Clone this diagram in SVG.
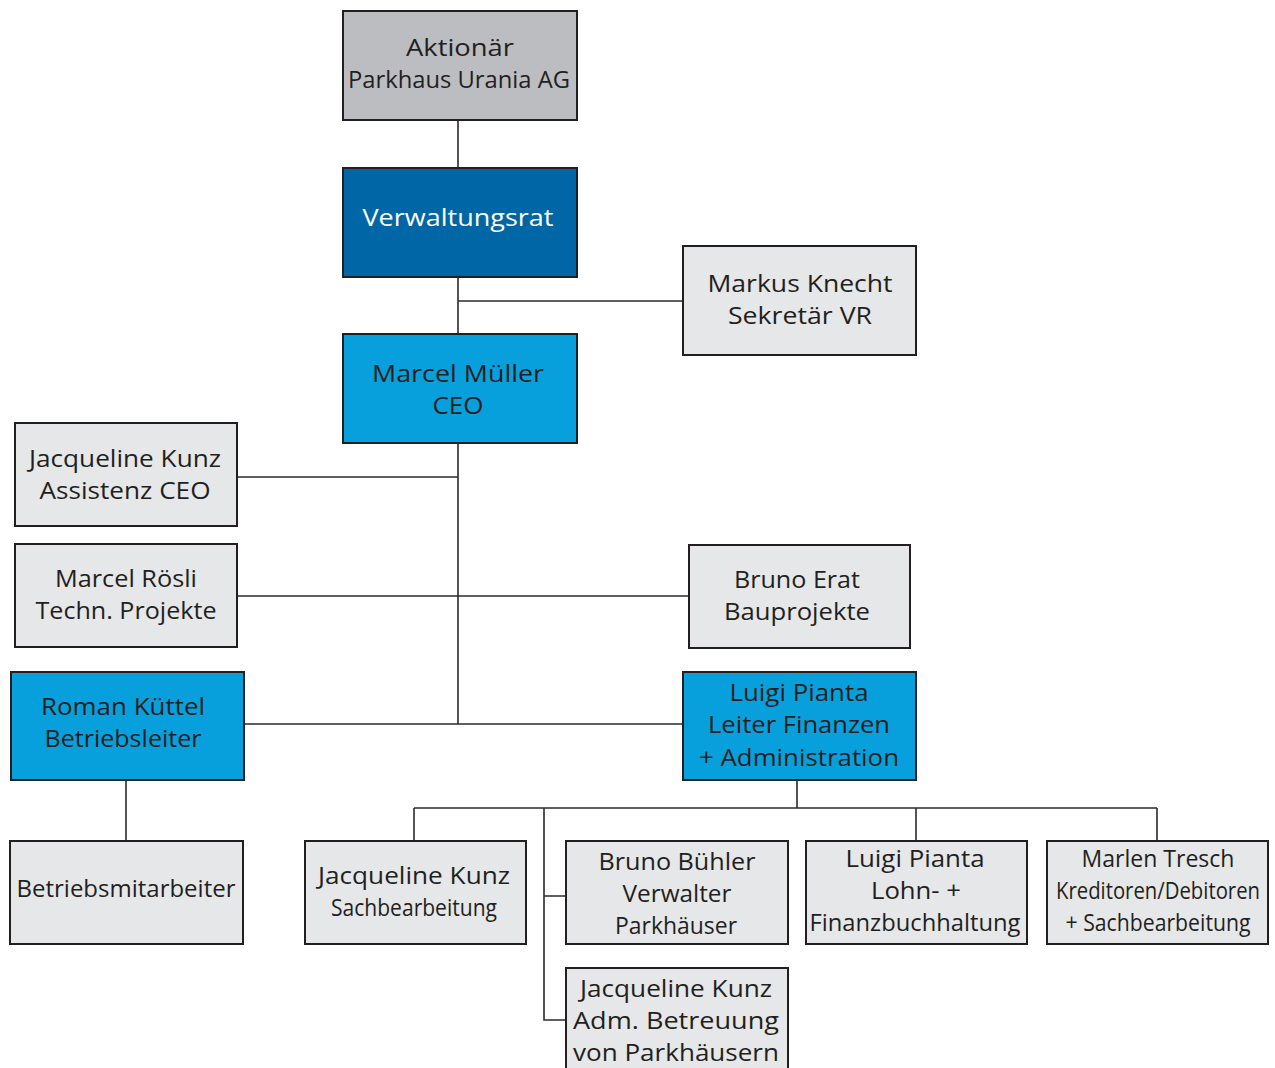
<svg xmlns="http://www.w3.org/2000/svg" width="1275" height="1068" viewBox="0 0 1275 1068">
<style>
.b{stroke:#231f20;stroke-width:2}
.g{fill:#bcbdc1}.l{fill:#e6e7e9}.d{fill:#0066a6}.c{fill:#079fdc}
text{font-family:"Open Sans","Noto Sans",sans-serif;font-size:24px;fill:#231f20;text-anchor:middle}
.w{fill:#ffffff}
.cn{stroke:#2b2b2b;stroke-width:1.6;fill:none}
</style>
<rect width="1275" height="1068" fill="#ffffff"/>
<g id="connectors">
<path class="cn" d="M458 120V168M458 277V334M458 301H683M458 443V724M237 477H458M237 596H689M244 724H683M126 780V841M797 780V808M414 808H1157M414 808V841M916 808V841M1157 808V841M544 808V1020H566M544 896H566"/>
</g>
<g id="aktionaer"><rect class="b g" x="343" y="11" width="234" height="109"/>
<text x="460" y="56" textLength="108" lengthAdjust="spacingAndGlyphs">Aktionär</text>
<text x="459" y="88" textLength="222" lengthAdjust="spacingAndGlyphs">Parkhaus Urania AG</text></g>
<g id="vr"><rect class="b d" x="343" y="168" width="234" height="109"/>
<text class="w" x="458" y="226" textLength="191" lengthAdjust="spacingAndGlyphs">Verwaltungsrat</text></g>
<g id="knecht"><rect class="b l" x="683" y="246" width="233" height="109"/>
<text x="800" y="292" textLength="185" lengthAdjust="spacingAndGlyphs">Markus Knecht</text>
<text x="800" y="324" textLength="144" lengthAdjust="spacingAndGlyphs">Sekretär VR</text></g>
<g id="ceo"><rect class="b c" x="343" y="334" width="234" height="109"/>
<text x="458" y="382" textLength="172" lengthAdjust="spacingAndGlyphs">Marcel Müller</text>
<text x="458" y="414" textLength="51" lengthAdjust="spacingAndGlyphs">CEO</text></g>
<g id="assistenz"><rect class="b l" x="15" y="423" width="222" height="103"/>
<text x="125" y="467" textLength="192" lengthAdjust="spacingAndGlyphs">Jacqueline Kunz</text>
<text x="125" y="499" textLength="171" lengthAdjust="spacingAndGlyphs">Assistenz CEO</text></g>
<g id="roesli"><rect class="b l" x="15" y="544" width="222" height="103"/>
<text x="126" y="587" textLength="142" lengthAdjust="spacingAndGlyphs">Marcel Rösli</text>
<text x="126" y="619" textLength="181" lengthAdjust="spacingAndGlyphs">Techn. Projekte</text></g>
<g id="erat"><rect class="b l" x="689" y="545" width="221" height="103"/>
<text x="797" y="588" textLength="126" lengthAdjust="spacingAndGlyphs">Bruno Erat</text>
<text x="797" y="620" textLength="146" lengthAdjust="spacingAndGlyphs">Bauprojekte</text></g>
<g id="kuettel"><rect class="b c" x="11" y="672" width="233" height="108"/>
<text x="123" y="715" textLength="164" lengthAdjust="spacingAndGlyphs">Roman Küttel</text>
<text x="123" y="747" textLength="157" lengthAdjust="spacingAndGlyphs">Betriebsleiter</text></g>
<g id="pianta"><rect class="b c" x="683" y="672" width="233" height="108"/>
<text x="799" y="701" textLength="139" lengthAdjust="spacingAndGlyphs">Luigi Pianta</text>
<text x="799" y="733" textLength="182" lengthAdjust="spacingAndGlyphs">Leiter Finanzen</text>
<text x="799" y="766" textLength="200" lengthAdjust="spacingAndGlyphs">+ Administration</text></g>
<g id="betriebsmitarbeiter"><rect class="b l" x="10" y="841" width="233" height="103"/>
<text x="126" y="897" textLength="219" lengthAdjust="spacingAndGlyphs">Betriebsmitarbeiter</text></g>
<g id="kunz-sach"><rect class="b l" x="305" y="841" width="221" height="103"/>
<text x="414" y="884" textLength="192" lengthAdjust="spacingAndGlyphs">Jacqueline Kunz</text>
<text x="414" y="916" textLength="166" lengthAdjust="spacingAndGlyphs">Sachbearbeitung</text></g>
<g id="buehler"><rect class="b l" x="566" y="841" width="222" height="103"/>
<text x="677" y="870" textLength="157" lengthAdjust="spacingAndGlyphs">Bruno Bühler</text>
<text x="677" y="902" textLength="109" lengthAdjust="spacingAndGlyphs">Verwalter</text>
<text x="676" y="934" textLength="122" lengthAdjust="spacingAndGlyphs">Parkhäuser</text></g>
<g id="kunz-adm"><rect class="b l" x="566" y="968" width="222" height="110"/>
<text x="676" y="997" textLength="192" lengthAdjust="spacingAndGlyphs">Jacqueline Kunz</text>
<text x="676" y="1029" textLength="206" lengthAdjust="spacingAndGlyphs">Adm. Betreuung</text>
<text x="676" y="1061" textLength="206" lengthAdjust="spacingAndGlyphs">von Parkhäusern</text></g>
<g id="pianta-lohn"><rect class="b l" x="806" y="841" width="221" height="103"/>
<text x="915" y="867" textLength="139" lengthAdjust="spacingAndGlyphs">Luigi Pianta</text>
<text x="916" y="899" textLength="90" lengthAdjust="spacingAndGlyphs">Lohn- +</text>
<text x="915" y="931" textLength="211" lengthAdjust="spacingAndGlyphs">Finanzbuchhaltung</text></g>
<g id="tresch"><rect class="b l" x="1047" y="841" width="221" height="103"/>
<text x="1158" y="867" textLength="153" lengthAdjust="spacingAndGlyphs">Marlen Tresch</text>
<text x="1158" y="899" textLength="204" lengthAdjust="spacingAndGlyphs">Kreditoren/Debitoren</text>
<text x="1158" y="931" textLength="185" lengthAdjust="spacingAndGlyphs">+ Sachbearbeitung</text></g>
</svg>
